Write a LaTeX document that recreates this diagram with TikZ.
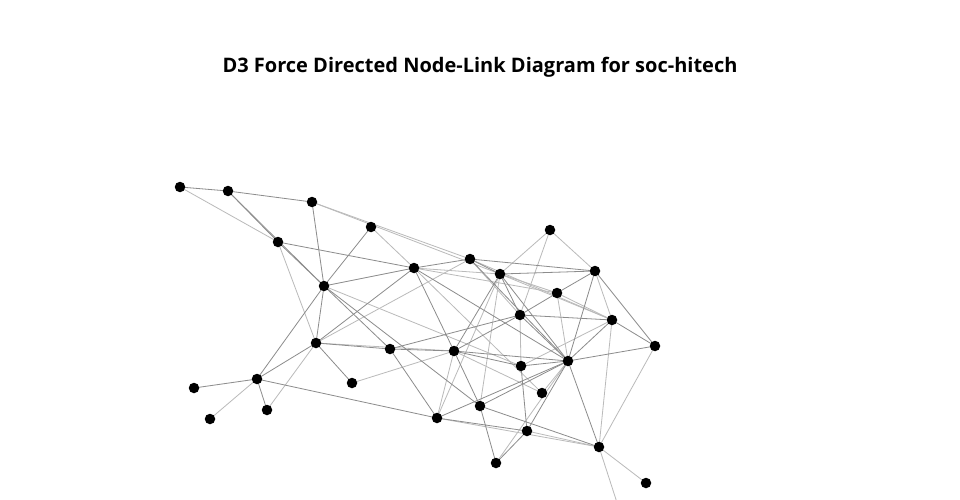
\documentclass[tikz,border=0pt]{standalone}
\usepackage{fontspec}
\setmainfont{Open Sans}
\pgfdeclarelayer{bg}
\pgfsetlayers{bg,main}
\begin{document}
\begin{tikzpicture}[x=1pt,y=-1pt,
  dot/.style={circle,fill=black,inner sep=0pt,minimum size=10.5pt},
  ln/.style={draw=black!27,line width=0.8pt},
  lk/.style={draw=black!45,line width=0.8pt}]
\useasboundingbox (0,0) rectangle (960,500);
\node[font=\bfseries\fontsize{20}{22}\selectfont] (title) at (480,67) {D3 Force Directed Node-Link Diagram for soc-hitech};
\coordinate (noff) at (621,515);
\foreach \n/\x/\y in {1/180/187,2/228/191,3/312/202,4/371/227,5/278/242,6/550/230,7/414/268,8/470/259,9/500/274,10/595/271,11/324/286,12/557/293,13/520/315,14/612/320,15/655/346,16/316/343,17/390/349,18/454/351,19/521/366,20/568/361,21/194/388,22/257/379,23/352/383,24/542/393,25/210/419,26/267/410,27/480/406,28/437/418,29/527/431,30/599/447,31/496/463,32/646/483}
  \node[dot] (n\n) at (\x,\y) {};
\begin{pgfonlayer}{bg}
\fill[white] (0,0) rectangle (960,500);
\foreach \a/\b in {1/5,3/8,3/9,4/7,5/16,7/9,7/12,7/24,8/16,8/14,9/28,6/10,6/13,6/9,10/14,12/14,9/14,14/19,14/30,15/30,16/26,16/18,18/23,18/28,18/24,22/25,29/30,28/30,30/32,30/off,9/27,20/31,20/24,13/19,11/19,8/13,9/12,12/20}
  \draw[ln] (n\a.center) -- (n\b.center);
\foreach \a/\b in {1/2,2/3,2/5,2/11,3/11,4/11,5/7,5/11,7/8,7/11,7/16,7/18,7/20,8/9,8/10,8/20,9/10,9/13,9/20,9/18,10/12,10/15,10/20,12/13,13/14,13/20,13/18,13/17,14/15,14/20,15/20,11/16,11/17,11/22,11/27,16/17,16/22,16/23,17/18,17/28,18/20,18/19,18/27,19/20,19/29,20/27,20/28,20/29,20/30,21/22,22/26,22/28,27/30,27/31,28/29,29/31}
  \draw[lk] (n\a.center) -- (n\b.center);
\end{pgfonlayer}
\end{tikzpicture}
\end{document}
